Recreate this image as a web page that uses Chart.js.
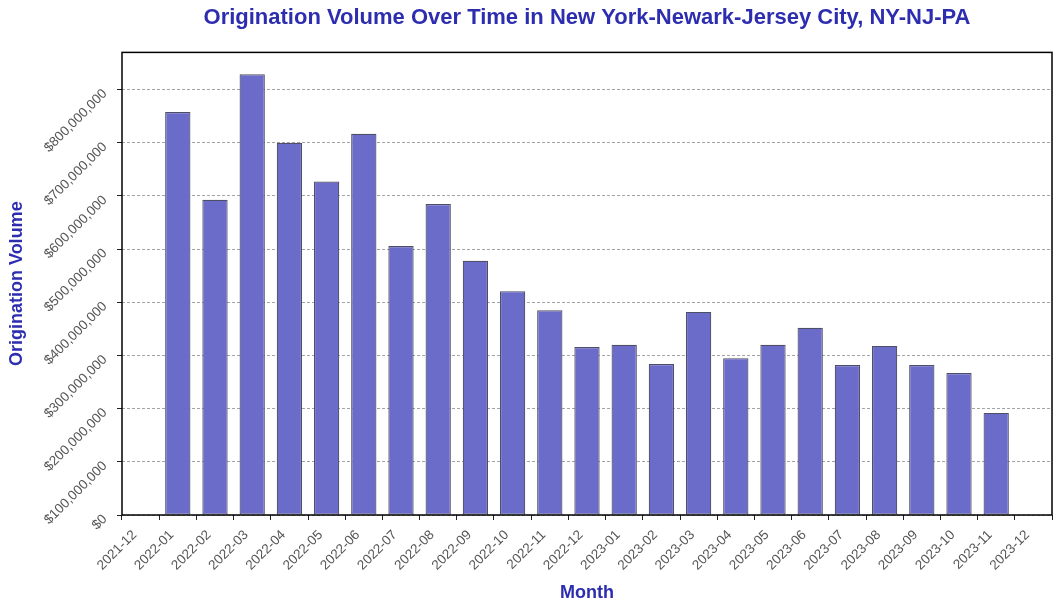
<!DOCTYPE html>
<html>
<head>
<meta charset="utf-8">
<script src="https://cdn.jsdelivr.net/npm/chart.js@4"></script>
<style>
    html, body { margin: 0; padding: 0; background: #fff; }
    #wrap { width: 1061px; height: 613px; }
</style>
</head>
<body>
<div id="wrap"><canvas id="originationChart" width="1061" height="613"></canvas></div>
<script>
// month labels shown on the x axis (first and last have no bar)
const months = [
    '2021-12', '2022-01', '2022-02', '2022-03', '2022-04', '2022-05', '2022-06',
    '2022-07', '2022-08', '2022-09', '2022-10', '2022-11', '2022-12',
    '2023-01', '2023-02', '2023-03', '2023-04', '2023-05', '2023-06',
    '2023-07', '2023-08', '2023-09', '2023-10', '2023-11', '2023-12'
];

// origination volume in dollars
const volumes = [
    null, 758e6, 593e6, 829e6, 700e6, 627e6, 717e6,
    506e6, 585e6, 478e6, 421e6, 385e6, 316e6,
    320e6, 284e6, 382e6, 295e6, 320e6, 352e6,
    282e6, 318e6, 282e6, 267e6, 192e6, null
];

// y axis tick values
const yTicks = [0, 100e6, 200e6, 300e6, 400e6, 500e6, 600e6, 700e6, 800e6];
const yMax = 870e6;

const titleBlue = '#2d2db0';
const tickGray = '#555555';
const fontFamily = "'Liberation Sans', Arial, sans-serif";

function formatDollars(value) {
    return '$' + Math.round(value).toLocaleString('en-US');
}

// matplotlib-like frame around the plot area
const frameBox = {
    id: 'frameBox',
    afterDatasetsDraw(chart) {
        const { ctx, chartArea } = chart;
        ctx.save();
        ctx.strokeStyle = '#000';
        ctx.lineWidth = 1.5;
        ctx.strokeRect(chartArea.left, chartArea.top,
            chartArea.right - chartArea.left, chartArea.bottom - chartArea.top);
        ctx.restore();
    }
};

const ctx = document.getElementById('originationChart').getContext('2d');
new Chart(ctx, {
    type: 'bar',
    data: {
        labels: months,
        datasets: [{
            label: 'Origination Volume',
            data: volumes,
            backgroundColor: 'rgb(107, 108, 201)',
            borderColor: '#4e4e66',
            borderWidth: 1.2,
            borderSkipped: false,
            barPercentage: 0.68,
            categoryPercentage: 1.0
        }]
    },
    options: {
        responsive: false,
        animation: false,
        layout: { padding: { left: 0, right: 9, top: 0, bottom: 0 } },
        plugins: {
            legend: { display: false },
            tooltip: { enabled: false },
            title: {
                display: true,
                fullSize: false,
                text: 'Origination Volume Over Time in New York-Newark-Jersey City, NY-NJ-PA',
                color: titleBlue,
                font: { family: fontFamily, size: 22, weight: 'bold' },
                padding: { top: 5, bottom: 21 }
            }
        },
        scales: {
            x: {
                type: 'category',
                offset: true,
                grid: {
                    drawOnChartArea: false,
                    drawTicks: true,
                    tickLength: 5,
                    tickColor: '#222',
                    tickWidth: 1
                },
                border: { display: false },
                ticks: {
                    autoSkip: false,
                    minRotation: 45,
                    maxRotation: 45,
                    labelOffset: -6,
                    color: tickGray,
                    padding: 7,
                    font: { family: fontFamily, size: 13.5 }
                },
                title: {
                    display: true,
                    text: 'Month',
                    color: titleBlue,
                    font: { family: fontFamily, size: 18, weight: 'bold' },
                    padding: { top: 4, bottom: 9 }
                },
                afterFit(scale) { scale.height = 98; }
            },
            y: {
                min: 0,
                max: yMax,
                grid: {
                    color: 'rgba(0, 0, 0, 0.45)',
                    lineWidth: 0.8,
                    tickBorderDash: [],
                    tickLength: 5,
                    tickColor: '#222',
                    tickWidth: 1
                },
                border: { display: false, dash: [3, 2] },
                afterBuildTicks(scale) {
                    scale.ticks = yTicks.map(v => ({ value: v }));
                },
                ticks: {
                    minRotation: 45,
                    maxRotation: 45,
                    labelOffset: 2,
                    color: tickGray,
                    padding: 12,
                    font: { family: fontFamily, size: 13.5 },
                    callback: (value) => formatDollars(value)
                },
                title: {
                    display: true,
                    text: 'Origination Volume',
                    color: titleBlue,
                    font: { family: fontFamily, size: 18, weight: 'bold' },
                    padding: { top: 6, bottom: 4 }
                },
                afterFit(scale) { scale.width = 122; }
            }
        }
    },
    plugins: [frameBox]
});
</script>
</body>
</html>
